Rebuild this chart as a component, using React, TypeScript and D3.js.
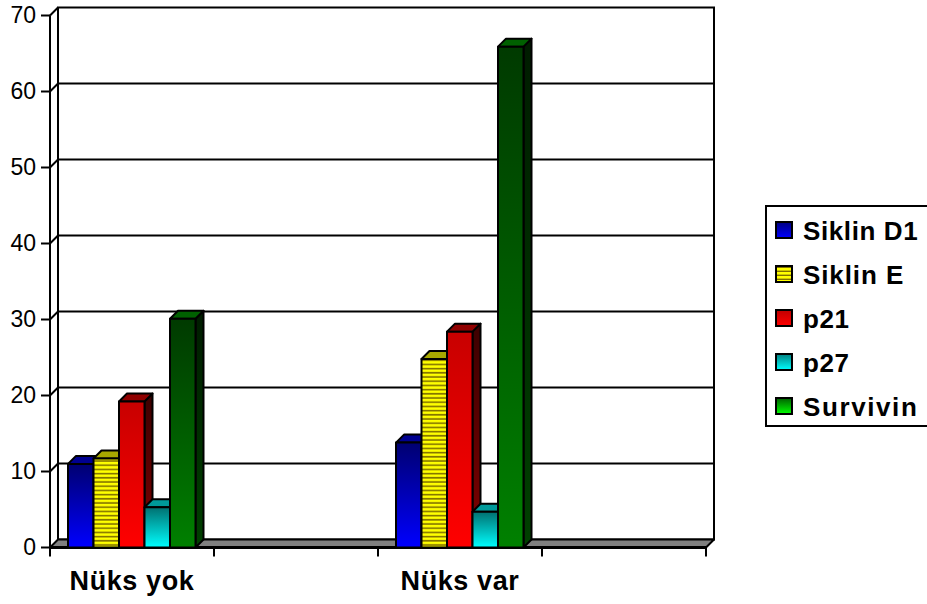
import React from "react";
import * as d3 from "d3";

const categories = ["Nüks yok", "empty-a", "Nüks var", "empty-b"];
const visibleCategories = ["Nüks yok", "Nüks var"];
const seriesNames = ["Siklin D1", "Siklin E", "p21", "p27", "Survivin"];
const siklinD1 = [11, 13.8];
const siklinE = [11.7, 24.8];
const p21 = [19.2, 28.4];
const p27 = [5.3, 4.7];
const survivin = [30.1, 65.9];
const seriesValues = [siklinD1, siklinE, p21, p27, survivin];
const yTicks = [0, 10, 20, 30, 40, 50, 60, 70];

// dark = top of a face, bright = bottom of a face
const palette = [
  { dark: "#000070", bright: "#0000ff", top: "#000090", sideDark: "#000040", sideBright: "#000080" },
  { dark: "#ffff00", bright: "#ffff00", top: "#a8a800", sideDark: "#707000", sideBright: "#707000" },
  { dark: "#c80000", bright: "#ff0000", top: "#900000", sideDark: "#3c0000", sideBright: "#800000" },
  { dark: "#007070", bright: "#00ffff", top: "#009a9a", sideDark: "#003838", sideBright: "#008080" },
  { dark: "#003a00", bright: "#008000", top: "#006000", sideDark: "#001c00", sideBright: "#004000" },
];
const legendSwatch = [
  ["#000080", "#0000ff"],
  ["#ffff00", "#ffff00"],
  ["#c00000", "#ff0000"],
  ["#008080", "#00ffff"],
  ["#006000", "#00ff00"],
];
const legendTracking = [0.6, 0.9, 0.6, 0.6, 1.6];

const W = 927;
const H = 604;
const frontLeft = 50;
const frontRight = 706;
const y0 = 547.5;
const y70 = 15.5;
const dx = 8;
const dy = 8;

const x = d3.scaleBand<string>().domain(categories).range([frontLeft, frontRight]);
const y = d3.scaleLinear().domain([0, 70]).range([y0, y70]);
const inner = d3.scaleBand<number>().domain([0, 1, 2, 3, 4]).range([18, 145.5]);

const font = "'Liberation Sans', Arial, sans-serif";

export default function App() {
  const backLeft = frontLeft + dx;
  const backRight = frontRight + dx;
  const backBase = y0 - dy;
  const backTop = y70 - dy;
  const floor = `M${frontLeft},${y0}L${backLeft},${backBase}L${backRight},${backBase}L${frontRight},${y0}Z`;

  return (
    <svg
      width={W}
      height={H}
      style={{ position: "absolute", left: 0, top: 0, background: "#fff" }}
    >
      <defs>
        {palette.map((c, i) => (
          <linearGradient key={i} id={`face${i}`} x1="0" y1="0" x2="0" y2="1">
            <stop offset="0" stopColor={c.dark} />
            <stop offset="1" stopColor={c.bright} />
          </linearGradient>
        ))}
        {palette.map((c, i) => (
          <linearGradient key={i} id={`side${i}`} x1="0" y1="0" x2="0" y2="1">
            <stop offset="0" stopColor={c.sideDark} />
            <stop offset="1" stopColor={c.sideBright} />
          </linearGradient>
        ))}
        {legendSwatch.map((c, i) => (
          <linearGradient key={i} id={`swatch${i}`} x1="0" y1="0" x2="0" y2="1">
            <stop offset="0" stopColor={c[0]} />
            <stop offset="1" stopColor={c[1]} />
          </linearGradient>
        ))}
        <pattern id="stripes" width="4" height="4.2" patternUnits="userSpaceOnUse">
          <rect width="4" height="4.2" fill="#ffff00" />
          <rect y="2.4" width="4" height="1.6" fill="#807000" />
        </pattern>
        <pattern id="swatchStripes" width="4" height="4" patternUnits="userSpaceOnUse">
          <rect width="4" height="4" fill="#ffff00" />
          <rect y="2.6" width="4" height="1.4" fill="#807000" />
        </pattern>
      </defs>

      {/* back wall, side wall and floor */}
      <rect
        x={backLeft}
        y={backTop}
        width={backRight - backLeft}
        height={backBase - backTop}
        fill="#fff"
        stroke="#000"
        strokeWidth={2}
      />
      <path d={floor} fill="#808080" stroke="#000" strokeWidth={2} strokeLinejoin="round" />

      {/* gridlines, each with its diagonal run along the side wall */}
      {yTicks.slice(1).map((t) => (
        <g key={t} stroke="#000" strokeWidth={2} fill="none">
          <path d={`M${frontLeft},${y(t)}L${backLeft},${y(t) - dy}`} />
          {t < 70 && <line x1={backLeft} x2={backRight} y1={y(t) - dy} y2={y(t) - dy} />}
        </g>
      ))}

      {/* y axis */}
      <line x1={frontLeft} x2={frontLeft} y1={y70} y2={y0} stroke="#000" strokeWidth={2} />
      {yTicks.map((t) => (
        <g key={t}>
          <line x1={frontLeft - 9} x2={frontLeft} y1={y(t)} y2={y(t)} stroke="#000" strokeWidth={2} />
          <text
            x={frontLeft - 14}
            y={y(t)}
            dy="-0.02em"
            textAnchor="end"
            dominantBaseline="central"
            fontFamily={font}
            fontSize={23}
            fill="#000"
          >
            {t}
          </text>
        </g>
      ))}

      {/* x axis */}
      <line x1={frontLeft} x2={frontRight} y1={y0} y2={y0} stroke="#000" strokeWidth={3} />
      {[...categories.map((c) => x(c) as number), frontRight].map((p) => (
        <line key={p} x1={p} x2={p} y1={y0} y2={y0 + 9} stroke="#000" strokeWidth={2} />
      ))}
      {visibleCategories.map((c) => (
        <text
          key={c}
          x={(x(c) as number) + x.bandwidth() / 2}
          y={590}
          textAnchor="middle"
          fontFamily={font}
          fontSize={27}
          letterSpacing={0.6}
          fontWeight="bold"
          fill="#000"
        >
          {c}
        </text>
      ))}

      {/* bars: side and top faces first, the front face over them */}
      {visibleCategories.map((c, ci) =>
        seriesValues.map((values, si) => {
          const left = (x(c) as number) + (inner(si) as number);
          const w = inner.bandwidth();
          const top = y(values[ci]);
          const colors = palette[si];
          return (
            <g key={`${c}-${si}`} stroke="#000" strokeWidth={2} strokeLinejoin="round">
              <path
                d={`M${left + w},${top}L${left + w + dx},${top - dy}L${left + w + dx},${y0 - dy}L${left + w},${y0}Z`}
                fill={`url(#side${si})`}
              />
              <path
                d={`M${left},${top}L${left + dx},${top - dy}L${left + w + dx},${top - dy}L${left + w},${top}Z`}
                fill={colors.top}
              />
              <rect
                x={left}
                y={top}
                width={w}
                height={y0 - top}
                fill={si === 1 ? "url(#stripes)" : `url(#face${si})`}
              />
            </g>
          );
        })
      )}

      {/* legend; its box runs past the right edge of the page */}
      <rect x={766} y={206} width={180} height={220} fill="#fff" stroke="#000" strokeWidth={2} />
      {seriesNames.map((name, i) => {
        const cy = 230 + i * 44;
        return (
          <g key={name}>
            <rect
              x={776}
              y={cy - 8}
              width={16}
              height={16}
              fill={i === 1 ? "url(#swatchStripes)" : `url(#swatch${i})`}
              stroke="#000"
              strokeWidth={2}
            />
            <text
              x={803}
              y={cy + 10}
              fontFamily={font}
              fontSize={26}
              letterSpacing={legendTracking[i]}
              fontWeight="bold"
              fill="#000"
            >
              {name}
            </text>
          </g>
        );
      })}
    </svg>
  );
}
